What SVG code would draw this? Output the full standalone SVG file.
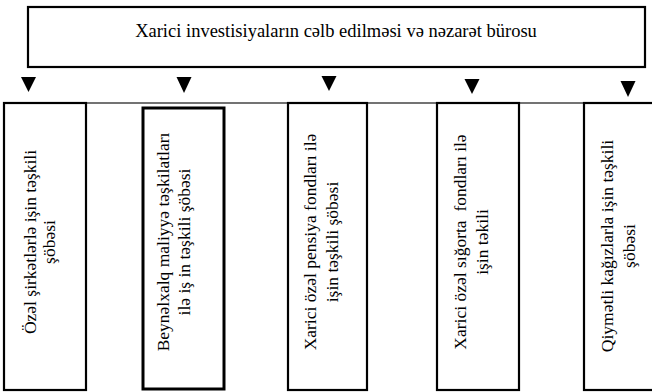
<svg xmlns="http://www.w3.org/2000/svg" width="652" height="392" viewBox="0 0 652 392">
<style>
.box{fill:#fff;stroke:#000;stroke-width:2.2}
.thick{stroke-width:3}
.t{font-family:"Liberation Serif","Times New Roman",serif;font-size:17.5px;fill:#000;text-anchor:middle}
.title{font-size:18.5px}
.arr{fill:#000}
</style>
<rect width="652" height="392" fill="#fff"/>
<g id="connectors">
<line x1="86" y1="103" x2="652" y2="103" stroke="#444" stroke-width="1.6"/>
<polygon class="arr" points="21,77 36,77 28.5,92"/>
<polygon class="arr" points="176.5,77 191.5,77 184,93"/>
<polygon class="arr" points="321.5,76 336.5,76 329,91"/>
<polygon class="arr" points="464.5,79 479.5,79 472,94"/>
<polygon class="arr" points="620.5,81 635.5,81 628,97"/>
</g>
<g id="top">
<rect class="box" x="28" y="7" width="617" height="60" stroke-width="2.6"/>
<text class="t title" x="336" y="37">Xarici investisiyaların cəlb edilməsi və nəzarət bürosu</text>
</g>
<g id="box1">
<rect class="box" x="4" y="103" width="82" height="287"/>
<text class="t" transform="translate(36,242) rotate(-90)">Özəl şirkətlərlə işin təşkili</text>
<text class="t" transform="translate(55,242) rotate(-90)">şöbəsi</text>
</g>
<g id="box2">
<rect class="box thick" x="143" y="108" width="81" height="281"/>
<text class="t" transform="translate(169,242) rotate(-90)">Beynəlxalq maliyyə təşkilatları</text>
<text class="t" transform="translate(190,242) rotate(-90)">ilə iş in təşkili şöbəsi</text>
</g>
<g id="box3">
<rect class="box" x="288" y="103" width="79" height="287"/>
<text class="t" transform="translate(316,242) rotate(-90)">Xarici özəl pensiya fondları ilə</text>
<text class="t" transform="translate(338,242) rotate(-90)">işin təşkili şöbəsi</text>
</g>
<g id="box4">
<rect class="box" x="437" y="103" width="82" height="287"/>
<text class="t" transform="translate(466,242) rotate(-90)" xml:space="preserve">Xarici özəl sığorta  fondları ilə</text>
<text class="t" transform="translate(488,242) rotate(-90)">işin təkili</text>
</g>
<g id="box5">
<rect class="box" x="584" y="103" width="90" height="287"/>
<text class="t" transform="translate(613,246) rotate(-90)">Qiymətli kağızlarla işin təşkili</text>
<text class="t" transform="translate(635,246) rotate(-90)">şöbəsi</text>
</g>
</svg>
